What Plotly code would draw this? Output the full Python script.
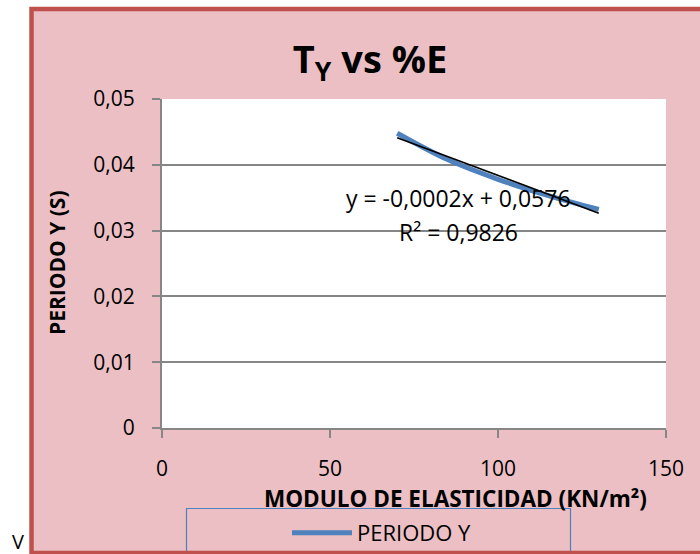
import numpy as np
import plotly.graph_objects as go

# ---- data ----
modulo = [70, 85, 100, 115, 130]
periodo_y = [0.0448, 0.0408, 0.0378, 0.0353, 0.0332]
y_tickvals = [0, 0.01, 0.02, 0.03, 0.04, 0.05]
y_ticktext = ["0", "0,01", "0,02", "0,03", "0,04", "0,05"]
x_tickvals = [0, 50, 100, 150]
eq_text = "y = -0,0002x + 0,0576"
r2_text = "R² = 0,9826"
x_title = "MODULO DE ELASTICIDAD (KN/m²)"
y_title = "PERIODO Y (S)"

# linear trend from the data
slope, intercept = np.polyfit(modulo, periodo_y, 1)
trend_x = [min(modulo), max(modulo)]
trend_y = [slope * v + intercept for v in trend_x]

W, H = 700, 554
L, R, T, B = 162, 34, 99, 126
PW, PH = W - L - R, H - T - B


def px(x):
    return (x - L) / PW


def py(y):
    return (H - B - y) / PH


FONT = "Open Sans"
GRAY = "#868686"
BLUE = "#4F81BD"

fig = go.Figure()
fig.add_trace(go.Scatter(
    x=modulo, y=periodo_y, mode="lines", name="PERIODO Y",
    line=dict(color=BLUE, width=5, shape="spline"),
))
fig.add_trace(go.Scatter(
    x=trend_x, y=trend_y, mode="lines", showlegend=False,
    line=dict(color="black", width=1.6),
))

shapes = [
    # pink background panel
    dict(type="rect", xref="paper", yref="paper", layer="below",
         x0=px(31), x1=px(712), y0=py(553), y1=py(9),
         fillcolor="#EBBFC3", line=dict(width=0)),
    # white plot area
    dict(type="rect", xref="paper", yref="paper", layer="below",
         x0=0, x1=1, y0=0, y1=1, fillcolor="white", line=dict(width=0)),
    # legend frame
    dict(type="rect", xref="paper", yref="paper", layer="below",
         x0=px(186.5), x1=px(570.5), y0=py(560), y1=py(508.5),
         fillcolor="rgba(0,0,0,0)", line=dict(color=BLUE, width=1.2)),
    # red outer border
    dict(type="rect", xref="paper", yref="paper", layer="below",
         x0=px(31.5), x1=px(720), y0=py(553), y1=py(9),
         fillcolor="rgba(0,0,0,0)", line=dict(color="#C0504D", width=4.5)),
]

annotations = [
    dict(text=eq_text, x=88.1, y=0.0350, xref="x", yref="y", showarrow=False,
         xanchor="center", yanchor="middle", font=dict(family=FONT, size=23, color="black")),
    dict(text=r2_text, x=88.1, y=0.0298, xref="x", yref="y", showarrow=False,
         xanchor="center", yanchor="middle", font=dict(family=FONT, size=23, color="black")),
    dict(text="<b>" + y_title + "</b>", x=px(57), y=py(263), xref="paper", yref="paper",
         showarrow=False, textangle=-90, xanchor="center", yanchor="middle",
         font=dict(family=FONT, size=21, color="black")),
    dict(text="<b>" + x_title + "</b>", x=px(455), y=py(498), xref="paper", yref="paper",
         showarrow=False, xanchor="center", yanchor="middle",
         font=dict(family=FONT, size=22.5, color="black")),
    dict(text="V", x=px(18), y=py(541), xref="paper", yref="paper", showarrow=False,
         xanchor="center", yanchor="middle", font=dict(family=FONT, size=20, color="black")),
]

fig.update_layout(
    width=W, height=H,
    margin=dict(l=L, r=R, t=T, b=B, pad=0, autoexpand=False),
    paper_bgcolor="white",
    plot_bgcolor="rgba(0,0,0,0)",
    font=dict(family=FONT, color="black"),
    title=dict(text="T<sub>Y</sub> vs %E", x=370 / W, xref="container", xanchor="center",
               y=1 - 60 / H, yref="container", yanchor="middle",
               font=dict(family=FONT, size=38, color="black", weight="bold")),
    showlegend=True,
    legend=dict(x=px(287), y=py(512), xanchor="left", yanchor="top",
                bgcolor="rgba(0,0,0,0)", borderwidth=0,
                font=dict(family=FONT, size=22, color="black"), itemwidth=60),
    shapes=shapes,
    annotations=annotations,
)

fig.update_xaxes(
    range=[0, 150], tickvals=x_tickvals, showgrid=False, zeroline=False,
    automargin=False,
    showline=True, linecolor=GRAY, linewidth=2,
    ticks="outside", ticklen=8, tickwidth=2, tickcolor=GRAY,
    ticklabelstandoff=13,
    tickfont=dict(family=FONT, size=21, color="black"),
)
fig.update_yaxes(
    range=[0, 0.05], tickvals=y_tickvals, ticktext=y_ticktext,
    automargin=False,
    showgrid=True, gridcolor=GRAY, gridwidth=2, zeroline=False,
    showline=True, linecolor=GRAY, linewidth=2,
    ticks="outside", ticklen=8, tickwidth=2, tickcolor=GRAY,
    ticklabelstandoff=13,
    tickfont=dict(family=FONT, size=21, color="black"),
)

fig.write_html("out.html", config={"displayModeBar": False},
               post_script="document.body.style.margin='0';")
